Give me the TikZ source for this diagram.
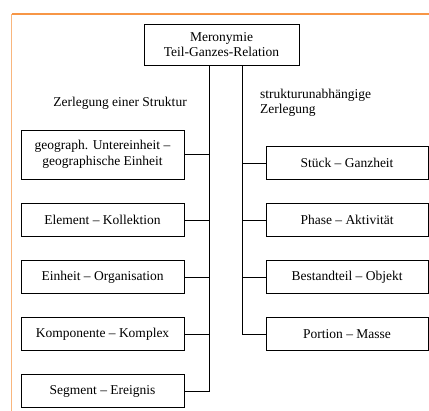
\documentclass[tikz,border=0pt]{standalone}
\usepackage{fontspec}
\setmainfont{Liberation Serif}
\definecolor{frameorange}{RGB}{247,150,70}
\begin{document}
\begin{tikzpicture}[x=1pt,y=-1pt,
  every node/.style={font=\fontsize{13.5}{15.5}\selectfont, inner sep=0pt},
  box/.style={draw=black, line width=0.9pt, align=center},
  lbox/.style={box, minimum width=163pt, minimum height=33pt},
  rbox/.style={box, minimum width=162pt, minimum height=33pt},
  conn/.style={draw=black, line width=0.9pt},
  lbl/.style={align=left}]
\useasboundingbox (0,0) rectangle (429,411);
% orange frame
\draw[frameorange, line width=1.4pt] (430,14) -- (11.5,14);
\draw[frameorange!70, line width=1.1pt] (11.5,14) -- (11.5,411);
% top node
\node[box, minimum width=155pt, minimum height=41pt] (top) at (221.5,44.5) {Meronymie\\Teil-Ganzes-Relation};
% labels
\node[lbl] (lz) at (120,103) {Zerlegung einer Struktur};
\node[lbl, anchor=west] (rz) at (260,103) {strukturunabhängige\\Zerlegung};
% left boxes
\node[lbox, minimum height=49pt] (l1) at (102.5,154.5) {geograph. Untereinheit --\\geographische Einheit};
\node[lbox] (l2) at (102.5,220) {Element -- Kollektion};
\node[lbox] (l3) at (102.5,277) {Einheit -- Organisation};
\node[lbox] (l4) at (102.5,334) {Komponente -- Komplex};
\node[lbox] (l5) at (102.5,391) {Segment -- Ereignis};
% right boxes
\node[rbox, minimum height=32.6pt] (r1) at (347,163) {Stück -- Ganzheit};
\node[rbox] (r2) at (347,220) {Phase -- Aktivität};
\node[rbox] (r3) at (347,277) {Bestandteil -- Objekt};
\node[rbox] (r4) at (347,334) {Portion -- Masse};
% spine coordinates
\coordinate (lv) at (209,0);
\coordinate (rv) at (242,0);
% left tree
\draw[conn] (top.south -| lv) |- (l5.east);
\foreach \n in {l1,l2,l3,l4} \draw[conn] (\n.east) -- (\n.east -| lv);
% right tree
\draw[conn] (top.south -| rv) |- (r4.west);
\foreach \n in {r1,r2,r3} \draw[conn] (\n.west) -- (\n.west -| rv);
\end{tikzpicture}
\end{document}
